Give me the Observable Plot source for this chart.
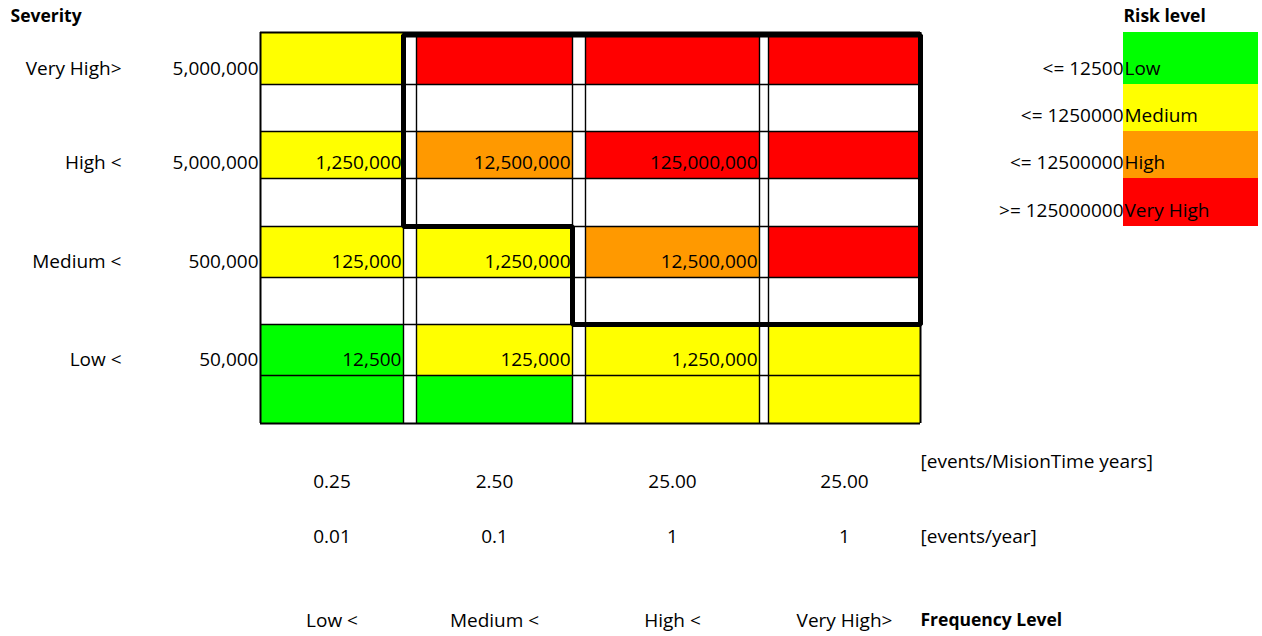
<!DOCTYPE html>
<html><head><meta charset="utf-8">
<script src="https://cdn.jsdelivr.net/npm/d3@7"></script>
<script src="https://cdn.jsdelivr.net/npm/@observablehq/plot@0.6"></script>
<style>body{margin:0;background:#fff}</style>
</head><body><div id="chart"></div>
<script>
// ---------- data ----------
const severityLevels = ["Very High>", "High <", "Medium <", "Low <"];
const severityValues = [5000000, 5000000, 500000, 50000];
const frequencyLevels = ["Low <", "Medium <", "High <", "Very High>"];
const freqMissionTime = [0.25, 2.5, 25, 25];
const freqPerYear = [0.01, 0.1, 1, 1];
const riskValues = [
  [null, null, null, null],
  [1250000, 12500000, 125000000, null],
  [125000, 1250000, 12500000, null],
  [12500, 125000, 1250000, null]
];
const riskLevelTop = [
  ["Medium", "Very High", "Very High", "Very High"],
  ["Medium", "High", "Very High", "Very High"],
  ["Medium", "Medium", "High", "Very High"],
  ["Low", "Medium", "Medium", "Medium"]
];
const riskLevelBottom = [
  [null, null, null, null],
  [null, null, null, null],
  [null, null, null, null],
  ["Low", "Low", "Medium", "Medium"]
];
const riskLevels = ["Low", "Medium", "High", "Very High"];
const riskThresholds = ["<= 12500", "<= 1250000", "<= 12500000", ">= 125000000"];
const riskColors = ["#00ff00", "#ffff00", "#ff9900", "#ff0000"];
const unitMission = "[events/MisionTime years]";
const unitYear = "[events/year]";

// ---------- sheet layout (column widths / row heights) ----------
const colWidths = [8, 115, 137, 143, 13, 156, 13, 174, 9, 152, 203, 135, 4];
const rowHeights = [32, 52, 47, 47, 48, 51, 47, 51, 48, 54, 20, 55, 38, 46];
const colEdges = [0]; colWidths.forEach(w => colEdges.push(colEdges[colEdges.length - 1] + w));
const rowEdges = [0]; rowHeights.forEach(h => rowEdges.push(rowEdges[rowEdges.length - 1] + h));
const W = 1262, H = 636;
const freqCol = i => 3 + 2 * i;
const sevRow = i => 1 + 2 * i;
const PAD = 2, DY = -16, FS = 19, FSB = 17.5;

// cells
const cells = [];
severityLevels.forEach((s, si) => frequencyLevels.forEach((f, fi) => {
  if (riskLevelTop[si][fi]) cells.push({col: freqCol(fi), row: sevRow(si), level: riskLevelTop[si][fi]});
  if (riskLevelBottom[si][fi]) cells.push({col: freqCol(fi), row: sevRow(si) + 1, level: riskLevelBottom[si][fi]});
}));
const legendCells = riskLevels.map((l, i) => ({col: 11, row: 1 + i, level: l, thr: riskThresholds[i]}));
const valueCells = [];
riskValues.forEach((r, si) => r.forEach((v, fi) => { if (v != null) valueCells.push({col: freqCol(fi), row: sevRow(si), v}); }));

const vEdges = d3.range(3, 11);
const hEdges = d3.range(1, 10);
const outer = new Set([3, 10]);
const outerH = new Set([1, 9]);
const topInset = 2.5;
const outline = [
  [colEdges[4], rowEdges[1] + topInset], [colEdges[10], rowEdges[1] + topInset], [colEdges[10], rowEdges[7]],
  [colEdges[6], rowEdges[7]], [colEdges[6], rowEdges[5]], [colEdges[4], rowEdges[5]]
];
const fmt = d3.format(",");

const chart = Plot.plot({
  width: W, height: H, margin: 0,
  x: {domain: [0, W], range: [0, W], axis: null},
  y: {domain: [0, H], range: [0, H], axis: null},
  color: {type: "ordinal", domain: riskLevels, range: riskColors},
  style: {fontFamily: "'Open Sans', sans-serif", fontSize: FS + "px", background: "#fff", color: "#000"},
  marks: [
    Plot.rect(cells, {x1: d => colEdges[d.col], x2: d => colEdges[d.col + 1], y1: d => rowEdges[d.row], y2: d => rowEdges[d.row + 1], fill: "level"}),
    Plot.rect(legendCells, {x1: d => colEdges[d.col], x2: d => colEdges[d.col + 1], y1: d => rowEdges[d.row], y2: d => rowEdges[d.row + 1], fill: "level"}),
    Plot.ruleX(vEdges.filter(i => !outer.has(i)), {x: i => colEdges[i], y1: () => rowEdges[1], y2: () => rowEdges[9], stroke: "#000", strokeWidth: 1.4}),
    Plot.ruleX(vEdges.filter(i => outer.has(i)), {x: i => colEdges[i], y1: () => rowEdges[1], y2: () => rowEdges[9], stroke: "#000", strokeWidth: 2}),
    Plot.ruleY(hEdges.filter(i => !outerH.has(i)), {y: i => rowEdges[i], x1: () => colEdges[3], x2: () => colEdges[10], stroke: "#000", strokeWidth: 1.4}),
    Plot.ruleY(hEdges.filter(i => outerH.has(i)), {y: i => rowEdges[i], x1: () => colEdges[3], x2: () => colEdges[10], stroke: "#000", strokeWidth: 2}),
    Plot.line(outline, {x: d => d[0], y: d => d[1], curve: "linear-closed", stroke: "#000", strokeWidth: 5, strokeLinejoin: "miter"}),
    // cell values
    Plot.text(valueCells, {x: d => colEdges[d.col + 1] - PAD, y: d => rowEdges[d.row + 1], text: d => fmt(d.v), textAnchor: "end", dy: DY, fontSize: FS}),
    // severity axis
    Plot.text(["Severity"], {x: () => colEdges[1] + PAD, y: () => rowEdges[1], text: d => d, textAnchor: "start", dy: DY, fontSize: FSB, fontWeight: "bold"}),
    Plot.text(severityLevels, {x: () => colEdges[2] - PAD, y: (d, i) => rowEdges[sevRow(i) + 1], text: d => d, textAnchor: "end", dy: DY, fontSize: FS}),
    Plot.text(severityValues, {x: () => colEdges[3] - PAD, y: (d, i) => rowEdges[sevRow(i) + 1], text: d => fmt(d), textAnchor: "end", dy: DY, fontSize: FS}),
    // frequency axis
    Plot.text([unitMission], {x: () => colEdges[10], y: () => rowEdges[10], text: d => d, textAnchor: "start", dy: DY, fontSize: FS}),
    Plot.text(freqMissionTime, {x: (d, i) => (colEdges[freqCol(i)] + colEdges[freqCol(i) + 1]) / 2, y: () => rowEdges[11], text: d => d3.format(".2f")(d), dy: DY, fontSize: FS}),
    Plot.text(freqPerYear, {x: (d, i) => (colEdges[freqCol(i)] + colEdges[freqCol(i) + 1]) / 2, y: () => rowEdges[12], text: d => String(d), dy: DY, fontSize: FS}),
    Plot.text([unitYear], {x: () => colEdges[10], y: () => rowEdges[12], text: d => d, textAnchor: "start", dy: DY, fontSize: FS}),
    Plot.text(frequencyLevels, {x: (d, i) => (colEdges[freqCol(i)] + colEdges[freqCol(i) + 1]) / 2, y: () => rowEdges[14], text: d => d, dy: DY, fontSize: FS}),
    Plot.text(["Frequency Level"], {x: () => colEdges[10], y: () => rowEdges[14], text: d => d, textAnchor: "start", dy: DY, fontSize: FSB, fontWeight: "bold"}),
    // legend
    Plot.text(["Risk level"], {x: () => colEdges[11], y: () => rowEdges[1], text: d => d, textAnchor: "start", dy: DY, fontSize: FSB, fontWeight: "bold"}),
    Plot.text(legendCells, {x: d => colEdges[d.col], y: d => rowEdges[d.row + 1], text: "thr", textAnchor: "end", dy: DY, fontSize: FS}),
    Plot.text(legendCells, {x: d => colEdges[d.col] + 1, y: d => rowEdges[d.row + 1], text: "level", textAnchor: "start", dy: DY, fontSize: FS})
  ]
});
document.getElementById("chart").append(chart);
</script>
</body></html>
